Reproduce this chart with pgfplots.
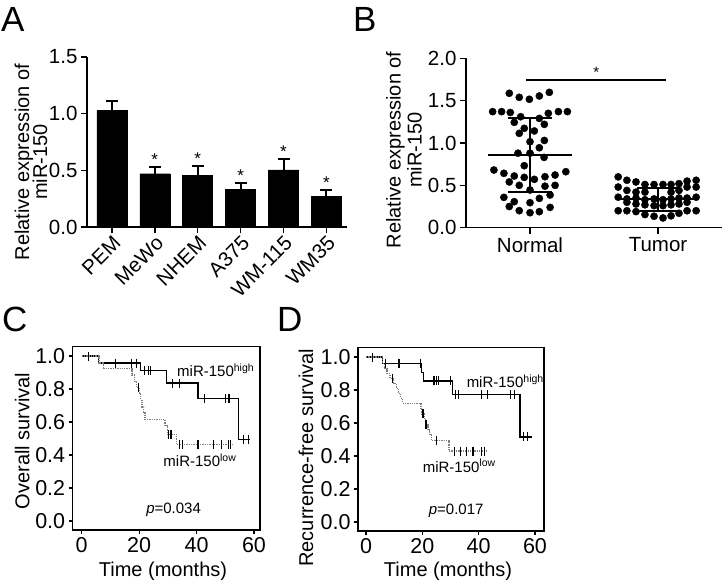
\documentclass[border=0pt]{standalone}
\usepackage{fontspec}
\setmainfont{Liberation Sans}
\usepackage{pgfplots}
\pgfplotsset{compat=1.18}

\newcommand{\lab}{\fontsize{20}{20}\selectfont}
\newcommand{\tlab}{\fontsize{20.5}{20}\selectfont}
\newcommand{\klab}{\fontsize{21.5}{20}\selectfont}
\newcommand{\ann}{\fontsize{15}{16}\selectfont}
\newcommand{\starfont}{\fontsize{17}{17}\selectfont}
\newcommand{\panelfont}{\fontsize{35}{35}\selectfont}

\pgfplotsset{
  panel/.style={
    scale only axis, anchor=south west, clip=false,
    tick align=outside, major tick length=6pt,
    tick style={black, line width=1.5pt},
    axis line style={black, line width=1.5pt, -},
    tick label style={font=\tlab},
    label style={font=\lab},
    /pgf/number format/assume math mode=true,
    yticklabel style={/pgf/number format/.cd, fixed, fixed zerofill, precision=1},
  },
  km/.style={panel,
    ymin=-0.055, ymax=1.057, xtick={0,20,40,60}, ytick={0,0.2,0.4,0.6,0.8,1},
    xtick pos=left, ytick pos=left, major tick length=4pt,
    axis line style={line width=1.2pt}, tick style={line width=1.2pt},
    tick label style={font=\klab},
    xlabel={Time (months)},
  },
  hi/.style={black, line width=1.3pt, const plot},
  lo/.style={gray, densely dotted, line width=1.3pt, const plot},
  cens/.style={only marks, mark=|, mark size=4.5pt, black, mark options={line width=1.1pt}},
}

\begin{document}
\begin{tikzpicture}
\useasboundingbox (0,0) rectangle (722pt,580pt);

% panel letters
\node[font=\panelfont, anchor=base west, inner sep=0] at (1pt,548pt) {A};
\node[font=\panelfont, anchor=base west, inner sep=0] at (353pt,548pt) {B};
\node[font=\panelfont, anchor=base west, inner sep=0] at (2pt,248pt) {C};
\node[font=\panelfont, anchor=base west, inner sep=0] at (277pt,248pt) {D};

% ---- A: bars
\begin{axis}[panel, at={(87pt,353pt)}, width=260pt, height=170pt,
  axis x line*=bottom, axis y line*=left,
  xmin=-0.58, xmax=5.48, ymin=0, ymax=1.5,
  ytick={0,0.5,1,1.5}, xtick={0,1,2,3,4,5},
  xticklabels={PEM,MeWo,NHEM,A375,WM-115,WM35},
  xticklabel style={rotate=45, anchor=north east, inner sep=1pt},
  ylabel={Relative expression of\\[-2pt]miR-150},
  ylabel style={align=center, at={(axis description cs:-0.215,0.382)}, anchor=center},
]
\addplot[ybar, bar width=30pt, fill=black, draw=black,
  error bars/.cd, y dir=plus, y explicit,
  error bar style={line width=2pt},
  error mark options={rotate=90, mark size=6pt, line width=2pt}]
  table[x=x, y=y, y error=e] {
  x y    e
  0 1.03 0.08
  1 0.47 0.055
  2 0.455 0.085
  3 0.335 0.055
  4 0.505 0.095
  5 0.27 0.055
};
\node[font=\starfont, anchor=base, inner sep=0] at (axis cs:1,0.54) {*};
\node[font=\starfont, anchor=base, inner sep=0] at (axis cs:2,0.555) {*};
\node[font=\starfont, anchor=base, inner sep=0] at (axis cs:3,0.405) {*};
\node[font=\starfont, anchor=base, inner sep=0] at (axis cs:4,0.615) {*};
\node[font=\starfont, anchor=base, inner sep=0] at (axis cs:5,0.34) {*};
\end{axis}

% ---- B: scatter
\begin{axis}[panel, at={(466pt,352.3pt)}, width=256pt, height=169.4pt,
  axis x line*=bottom, axis y line*=left,
  xmin=-0.5, xmax=1.5, ymin=0, ymax=2,
  ytick={0,0.5,1,1.5,2}, xtick={0,1}, xticklabels={Normal,Tumor},
  ylabel={Relative expression of\\[1pt]miR-150},
  ylabel style={align=center, at={(axis description cs:-0.242,0.459)}, anchor=center},
]
\addplot[only marks, mark=*, mark size=3.6pt, black] coordinates {
(-0.162,1.587) (-0.084,1.539) (-0.005,1.516) (0.073,1.555) (0.151,1.598)
(-0.292,1.37) (-0.222,1.37) (-0.154,1.36) (-0.073,1.31) (0.073,1.29) (0.143,1.35) (0.222,1.37) (0.292,1.37)
(-0.123,1.244) (0.112,1.22) (-0.045,1.173) (0.034,1.142) (-0.084,1.114)
(0,1.015) (0.112,1.03) (0.073,0.944)
(-0.094,0.88) (0,0.88) (0.11,0.83) (-0.045,0.732)
(-0.282,0.681) (-0.204,0.642) (-0.123,0.61) (-0.045,0.594) (0.034,0.571) (0.117,0.602) (0.196,0.622) (0.28,0.661)
(-0.162,0.54) (-0.084,0.5) (0.117,0.49) (0.196,0.5) (0,0.445)
(-0.204,0.358) (-0.123,0.307) (0.073,0.346) (0.157,0.386)
(-0.162,0.25) (0,0.295) (0.157,0.24)
(-0.084,0.201) (0,0.177) (0.073,0.189)
};
\addplot[only marks, mark=*, mark size=3.6pt, black] coordinates {
(0.689,0.60) (0.757,0.56) (0.828,0.54) (0.898,0.51) (0.969,0.51) (1.039,0.51) (1.102,0.51) (1.164,0.52) (1.227,0.55) (1.298,0.56)
(0.689,0.48) (0.757,0.44) (0.828,0.42) (1.164,0.44) (1.227,0.48) (1.298,0.48)
(0.898,0.42) (1.102,0.42)
(0.689,0.36) (0.757,0.34) (0.828,0.35) (0.898,0.33) (0.969,0.34) (1.039,0.33) (1.102,0.34) (1.164,0.35) (1.227,0.35) (1.298,0.36)
(0.757,0.30) (0.828,0.28) (0.898,0.27) (0.969,0.26) (1.039,0.26) (1.102,0.27) (1.164,0.28) (1.227,0.30)
(0.689,0.20) (0.757,0.20) (0.828,0.19) (0.898,0.155) (0.969,0.135) (1.039,0.115) (1.102,0.14) (1.164,0.17) (1.227,0.20) (1.298,0.20)
};
% mean and SD
\addplot[black, line width=2pt] coordinates {(-0.329,0.86) (0.329,0.86)};
\addplot[black, line width=2pt] coordinates {(0,0.42) (0,1.30)};
\addplot[black, line width=2pt] coordinates {(-0.172,1.30) (0.172,1.30)};
\addplot[black, line width=2pt] coordinates {(-0.172,0.42) (0.172,0.42)};
\addplot[black, line width=2pt] coordinates {(0.679,0.339) (1.321,0.339)};
\addplot[black, line width=2pt] coordinates {(1,0.20) (1,0.465)};
\addplot[black, line width=2pt] coordinates {(0.836,0.465) (1.164,0.465)};
\addplot[black, line width=2pt] coordinates {(0.836,0.20) (1.164,0.20)};
% significance bar
\addplot[black, line width=1.5pt] coordinates {(-0.03,1.744) (1.065,1.744)};
\node[font=\ann, anchor=base, inner sep=0] at (axis cs:0.517,1.77) {*};
\end{axis}

% ---- C: overall survival
\begin{axis}[km, at={(72.7pt,50pt)}, width=187.3pt, height=183.3pt,
  xmin=-3.13, xmax=62.1,
  ylabel={Overall survival},
  ylabel style={at={(axis description cs:-0.27,0.486)}, anchor=center},
  xlabel style={at={(axis description cs:0.482,-0.227)}, anchor=center},
]
\addplot[hi] coordinates {(0,1) (5.8,0.958) (20.5,0.912) (29.5,0.836) (40.5,0.741) (54.5,0.494) (58.5,0.494)};
\addplot[lo] coordinates {(0,1) (6,0.958) (7.5,0.923) (17.5,0.885) (18.5,0.846) (19.2,0.808) (20.2,0.77) (20.6,0.731) (21,0.692) (21.6,0.654) (22,0.615) (29,0.577) (29.8,0.525) (33,0.463) (52.8,0.463)};
\addplot[cens] coordinates {(2.3,1) (11.8,0.958) (17.4,0.958) (19.1,0.958) (21.8,0.912) (23.4,0.912) (24.1,0.912) (31.5,0.836) (34,0.836) (42.8,0.741) (50,0.741) (51.3,0.741) (56.5,0.494) (58,0.494)};
\addplot[cens] coordinates {(19.7,0.808) (30.3,0.525) (30.8,0.525) (31.2,0.525) (34,0.463) (35,0.463) (40.5,0.463) (46,0.463) (48.8,0.463) (51,0.463) (51.7,0.463)};
\node[font=\ann, anchor=west, inner sep=0] at (axis cs:33.2,0.916) {miR-150\textsuperscript{high}};
\node[font=\ann, anchor=west, inner sep=0] at (axis cs:28.4,0.367) {miR-150\textsuperscript{low}};
\node[font=\ann, anchor=center, inner sep=0] at (axis cs:32,0.065) {\textit{p}=0.034};
\end{axis}

% ---- D: recurrence-free survival
\begin{axis}[km, at={(358pt,49pt)}, width=186pt, height=183.3pt,
  xmin=-2.84, xmax=63.2,
  ylabel={Recurrence-free survival},
  ylabel style={at={(axis description cs:-0.28,0.40)}, anchor=center},
  xlabel style={at={(axis description cs:0.484,-0.222)}, anchor=center},
]
\addplot[hi] coordinates {(0,1) (5.8,0.962) (19.8,0.905) (20.3,0.855) (30.7,0.771) (54.7,0.516) (59,0.516)};
\addplot[lo] coordinates {(0,1) (5.8,0.962) (6.5,0.93) (7.5,0.90) (8.5,0.87) (9.8,0.84) (10.8,0.81) (11.5,0.78) (12.3,0.75) (13,0.72) (19.5,0.69) (19.9,0.655) (20.8,0.62) (21.2,0.59) (22,0.56) (22.6,0.53) (23.2,0.494) (29.5,0.43) (43,0.43)};
\addplot[cens] coordinates {(2.2,1) (6.9,0.962) (11.5,0.962) (11.9,0.962) (19.2,0.962) (23.9,0.855) (24.4,0.855) (25,0.855) (25.6,0.855) (30.1,0.855) (31.8,0.771) (32.8,0.771) (41,0.771) (43.1,0.771) (51.2,0.771) (52.8,0.771) (55.9,0.516) (57.3,0.516)};
\addplot[cens] coordinates {(9.3,0.87) (20,0.655) (20.3,0.655) (21.3,0.59) (21.6,0.59) (25,0.494) (31.4,0.43) (33.6,0.43) (35.8,0.43) (38,0.43) (41,0.43) (42,0.43)};
\node[font=\ann, anchor=west, inner sep=0] at (axis cs:35.7,0.854) {miR-150\textsuperscript{high}};
\node[font=\ann, anchor=west, inner sep=0] at (axis cs:20.1,0.341) {miR-150\textsuperscript{low}};
\node[font=\ann, anchor=center, inner sep=0] at (axis cs:32,0.065) {\textit{p}=0.017};
\end{axis}
\end{tikzpicture}
\end{document}
